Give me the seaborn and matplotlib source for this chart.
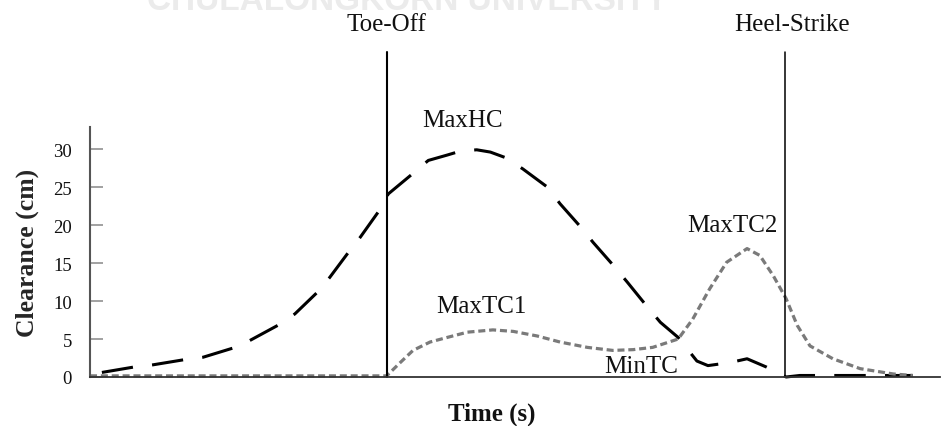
import matplotlib
matplotlib.use("Agg")
import matplotlib.pyplot as plt
import seaborn as sns
import pandas as pd

# ---- data (time in % of gait cycle, clearance in cm) ----
heel_t = [1.4, 5.1, 7.4, 11.2, 13.3, 16.8, 18.8, 22.1, 24.1, 26.7, 28.2, 30.4, 31.8,
          33.9, 35.1, 37.9, 39.8, 42.0, 43.2, 44.4, 45.5, 47.1, 48.8, 50.9, 53.8,
          55.3, 57.6, 59.2, 61.4, 63.2, 65.3, 67.1, 69.2, 71.4, 72.7, 75.3, 77.3,
          79.6, 81.9, 83.5, 89.4, 96.8]
heel_c = [0.6, 1.3, 1.6, 2.3, 2.6, 3.8, 4.8, 6.8, 8.3, 11.1, 13.1, 16.4, 18.4,
          21.7, 24.1, 26.7, 28.5, 29.2, 29.6, 29.8, 29.9, 29.6, 28.9, 27.4, 25.0,
          22.8, 19.9, 17.7, 14.9, 12.5, 9.6, 7.2, 5.2, 2.1, 1.5, 1.9, 2.4,
          1.3, 0.0, 0.2, 0.2, 0.2]

toe_t = [0.0, 34.9, 36.5, 38.0, 40.0, 42.0, 44.4, 47.4, 49.8, 52.6, 55.3, 58.5,
         61.5, 63.9, 66.2, 69.2, 70.9, 72.9, 74.9, 77.3, 78.8, 80.4, 81.9, 83.2,
         84.7, 87.4, 90.6, 94.5, 96.8]
toe_c = [0.15, 0.15, 1.9, 3.5, 4.6, 5.2, 5.9, 6.2, 6.0, 5.4, 4.6, 3.9,
         3.5, 3.6, 3.9, 5.0, 7.6, 11.6, 15.1, 16.9, 16.0, 13.3, 10.3, 6.8,
         4.1, 2.4, 1.1, 0.4, 0.2]

events = ["Toe-Off", "Heel-Strike"]
event_t = [34.9, 81.8]

point_labels = ["MaxHC", "MaxTC1", "MinTC", "MaxTC2"]
point_t = [43.8, 46.0, 64.8, 75.6]
point_c = [33.8, 9.3, 1.45, 20.0]

yticks = [0, 5, 10, 15, 20, 25, 30]

# ---- figure ----
sns.set_theme(style="white")
plt.rcParams["font.family"] = ["Liberation Serif", "DejaVu Serif"]

fig = plt.figure(figsize=(9.47, 4.27), dpi=100)
ax = fig.add_axes([90 / 947, 1 - 378 / 427, 850 / 947, 250 / 427])

heel_df = pd.DataFrame({"t": heel_t, "c": heel_c})
toe_df = pd.DataFrame({"t": toe_t, "c": toe_c})

sns.lineplot(data=heel_df, x="t", y="c", ax=ax, color="black", linewidth=2.2,
             sort=False, clip_on=False)
ax.lines[-1].set_dashes((10.3, 6.3))
ax.lines[-1].set_dash_capstyle("butt")

sns.lineplot(data=toe_df, x="t", y="c", ax=ax, color="#7a7a7a", linewidth=2.3,
             sort=False, clip_on=False)
ax.lines[-1].set_dashes((2.2, 1.2))
ax.lines[-1].set_dash_capstyle("butt")

ax.set_xlim(0, 100)
ax.set_ylim(0, 32.9)

# event lines extending above the axes
for i, (name, t) in enumerate(zip(events, event_t)):
    ax.axvline(t, ymin=0, ymax=(378 - 53) / 250, color="black",
               linewidth=1.5 if i == 0 else 1.1, clip_on=False)
    ax.text(t if i == 0 else t + 0.8, 46.4, name, ha="center", va="center",
            fontsize=18, color="#111111")

for lab, t, c in zip(point_labels, point_t, point_c):
    ax.text(t, c, lab, ha="center", va="center", fontsize=18, color="#111111")

# axes styling
for s in ["top", "right"]:
    ax.spines[s].set_visible(False)
ax.spines["left"].set_color("#555555")
ax.spines["left"].set_linewidth(1.5)
ax.spines["bottom"].set_color("#333333")
ax.spines["bottom"].set_linewidth(1.3)

ax.set_yticks(yticks)
ax.set_yticklabels([str(v) for v in yticks])
ax.set_xticks([])
ax.tick_params(axis="y", direction="in", length=9.5, width=1.1, color="#888888",
               pad=13, labelsize=13.5, labelcolor="#111111", left=True)

ax.set_xlabel("")
ax.set_ylabel("Clearance (cm)", fontsize=18.5, fontweight="bold", va="center")
ax.yaxis.set_label_coords((27 - 90) / 850, 0.5)

fig.text(492 / 947, 1 - 414 / 427, "Time (s)", ha="center", va="center",
         fontsize=18, fontweight="bold", color="#111111")

# faint watermark partly cut off at the top (as in the reference)
fig.text(407 / 947, 1 - 1 / 427, "CHULALONGKORN UNIVERSITY", ha="center",
         va="center", fontsize=24, fontweight="bold", color="#ebebeb",
         family=["Liberation Sans", "DejaVu Sans"], zorder=-10)

fig.savefig("out.png", dpi=100)
